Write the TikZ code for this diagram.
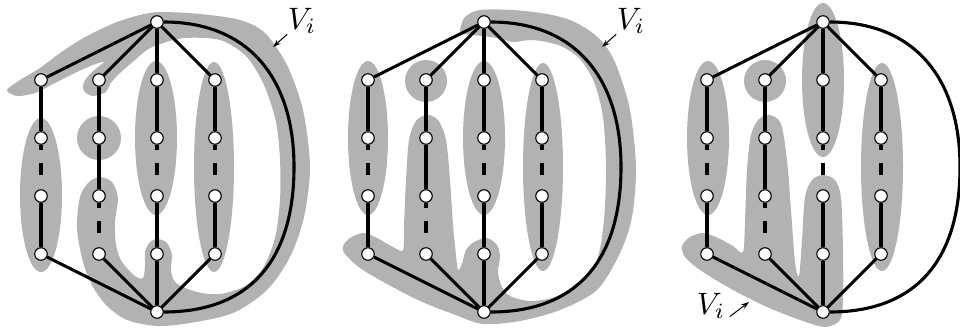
\documentclass[tikz,border=0pt]{standalone}
\usetikzlibrary{arrows.meta}

\tikzset{
    vtx/.style={circle, draw, fill=white, line width=1.1pt, minimum size=12.5pt, inner sep=0pt},
    gedge/.style={line width=3.1pt},
    gap/.style={line width=3.1pt, dash pattern=on 5pt off 13pt on 12pt off 30pt},
    blob/.style={fill=black!30},
    lbl/.style={scale=3.1, inner sep=0pt},
    ptr/.style={line width=1pt, -{Stealth[length=8pt, width=5.5pt]}},
}

\begin{document}
\begin{tikzpicture}[x=1pt, y=-1pt]
    \useasboundingbox (0,0) rectangle (960,328);

    % Regions (left)
    \fill[blob] (41,195) ellipse (21pt and 77pt);
    \fill[blob] (99,138) circle (22pt);
    \fill[blob] (156,138) ellipse (21pt and 77pt);
    \fill[blob] (214,167) ellipse (20pt and 105pt);
    \fill[blob] plot[smooth cycle] coordinates {
        (7,90) (20,80) (40,68) (60,53) (80,40) (97,31) (117,22) (140,15) (160,12)
        (200,14) (240,20) (265,33) (287,65) (303,110) (310,167) (304,217) (290,257)
        (267,290) (233,313) (190,323) (157,326) (127,320) (107,306) (93,287) (83,262)
        (77,228) (80,197) (89,182) (100,177) (112,182) (118,198) (115,222) (116,245)
        (122,262) (135,276) (143,278) (145,265) (145,252) (150,242) (158,239) (167,243)
        (172,255) (171,270) (176,283) (197,292) (220,294) (245,286) (263,268) (275,238)
        (280,200) (280,160) (276,122) (264,85) (246,56) (220,40) (185,38) (160,44)
        (147,50) (135,60) (120,73) (110,84) (106,92) (93,96) (84,91) (84,82) (92,72)
        (104,62) (93,65) (77,72) (57,82) (35,93) (17,96)};

    % Regions (middle)
    \fill[blob] (368,138) ellipse (20pt and 77pt);
    \fill[blob] (426,81) circle (21pt);
    \fill[blob] (484,138) ellipse (21pt and 77pt);
    \fill[blob] (543,167) ellipse (20pt and 104pt);
    \fill[blob] plot[smooth cycle] coordinates {
        (460,30) (465,17) (480,10) (513,10) (547,14) (570,20) (590,31) (605,45)
        (617,67) (630,110) (636,167) (632,217) (620,253) (597,290) (560,310) (520,321)
        (483,324) (453,314) (420,301) (387,284) (360,268) (345,254) (343,246) (350,238)
        (363,233) (377,238) (393,247) (403,250) (404,225) (406,180) (409,140) (416,121)
        (427,115) (438,120) (446,140) (450,180) (453,225) (456,255) (458,270) (462,264)
        (466,250) (474,242) (487,238) (497,245) (500,257) (498,272) (502,287) (510,296)
        (530,301) (555,297) (580,283) (597,260) (604,220) (606,167) (603,117) (594,82)
        (580,59) (563,47) (547,42) (530,40) (513,42) (497,38) (473,35) (463,34)};

    % Regions (right)
    \fill[blob] (708,138) ellipse (21pt and 77pt);
    \fill[blob] (765,81) circle (21pt);
    \fill[blob] (823,80) ellipse (21pt and 77pt);
    \fill[blob] (882,167) ellipse (21pt and 104pt);
    \fill[blob] plot[smooth cycle] coordinates {
        (682,246) (690,237) (703,233) (718,238) (733,246) (743,252) (745,220) (747,170)
        (751,135) (759,119) (770,115) (781,124) (787,160) (791,210) (795,262) (799,276)
        (802,240) (805,197) (812,180) (823,175) (835,180) (841,198) (843,250) (843,300)
        (840,320) (825,327) (800,320) (767,307) (733,290) (700,270) (685,257)};

    % The same graph three times
    \foreach \dx [count=\p] in {0,327,666} {
        \begin{scope}[xshift=\dx]
            \node[vtx] (t\p) at (157,22) {};
            \node[vtx] (b\p) at (157,312) {};
            \foreach \cx [count=\c] in {41,99,157,215}
                \foreach \ry [count=\r] in {80,138,196,254}
                    \node[vtx] (v\p-\c-\r) at (\cx,\ry) {};
            \coordinate (m\p) at (294,167);

            \foreach \c in {1,...,4} {
                \draw[gedge] (t\p) -- (v\p-\c-1);
                \draw[gedge] (v\p-\c-4) -- (b\p);
            }
            \foreach \c/\r/\s/\st in {1/1/2/gedge, 1/2/3/gap, 1/3/4/gedge,
                                      2/1/2/gedge, 2/2/3/gedge, 2/3/4/gap,
                                      3/1/2/gedge, 3/2/3/gap, 3/3/4/gedge,
                                      4/1/2/gedge, 4/2/3/gap, 4/3/4/gedge}
                \draw[\st] (v\p-\c-\r) -- (v\p-\c-\s);

            % outer edge
            \draw[gedge] (t\p) .. controls +(93,0) and +(0,-87) .. (m\p)
                               .. controls +(0,93) and +(93,0) .. (b\p);
        \end{scope}
    }

    % Labels
    \node[lbl] (l1) at (302,21) {$V_i$};
    \coordinate (a1) at (273,47);
    \draw[ptr] (l1) -- (a1);

    \node[lbl] (l2) at (631,21) {$V_i$};
    \coordinate (a2) at (602,47);
    \draw[ptr] (l2) -- (a2);

    \node[lbl] (l3) at (711,306) {$V_i$};
    \coordinate (a3) at (749,302);
    \draw[ptr, shorten <=5pt] (l3.south east) -- (a3);
\end{tikzpicture}
\end{document}
